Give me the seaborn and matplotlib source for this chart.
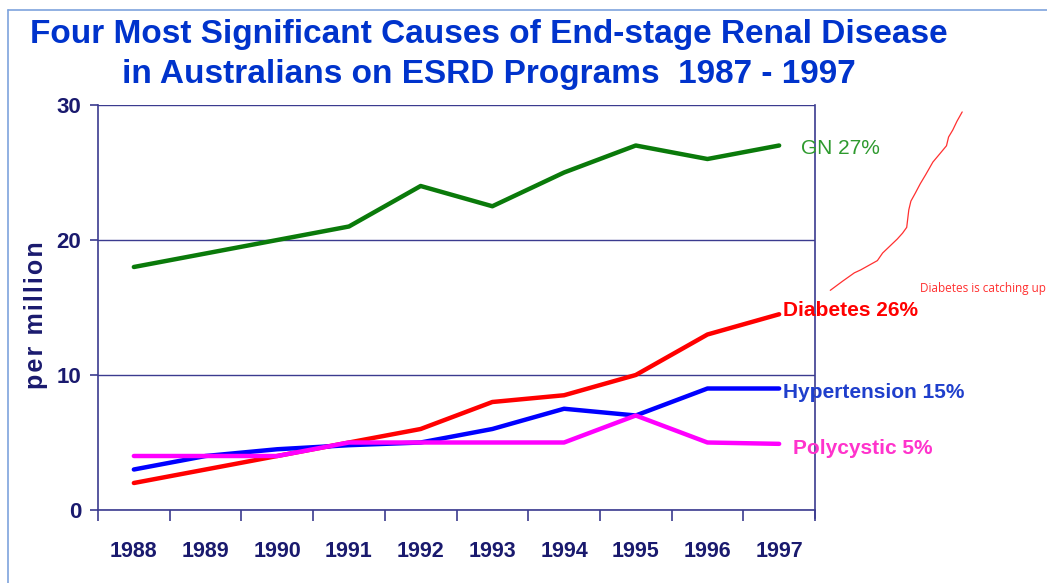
import matplotlib
matplotlib.use("Agg")
import matplotlib.pyplot as plt
from matplotlib.lines import Line2D
import seaborn as sns
import pandas as pd

# --- data -------------------------------------------------------------
years = ["1988", "1989", "1990", "1991", "1992", "1993", "1994", "1995", "1996", "1997"]
gn = [18, 19, 20, 21, 24, 22.5, 25, 27, 26, 27]
diabetes = [2, 3, 4, 5, 6, 8, 8.5, 10, 13, 14.5]
hypertension = [3, 4, 4.5, 4.8, 5, 6, 7.5, 7, 9, 9]
polycystic = [4, 4, 4, 5, 5, 5, 5, 7, 5, 4.9]

series_names = ["GN 27%", "Diabetes 26%", "Hypertension 15%", "Polycystic 5%"]
series_values = [gn, diabetes, hypertension, polycystic]
line_colors = ["#0A7A0A", "#FF0000", "#0000FF", "#FF00FF"]
label_colors = ["#2E9A2E", "#FF0000", "#1F3FCC", "#FF33CC"]
label_weights = ["normal", "bold", "bold", "bold"]

y_ticks = [0, 10, 20, 30]
title = "Four Most Significant Causes of End-stage Renal Disease\nin Australians on ESRD Programs  1987 - 1997"
y_label = "\u200a".join("per million")
note = "Diabetes is catching up"

# freehand pen stroke next to the labels (figure fractions)
stroke_x = [0.793, 0.805, 0.816, 0.822, 0.831, 0.838, 0.843, 0.850, 0.857, 0.862,
            0.866, 0.867, 0.868, 0.870, 0.874, 0.879, 0.884, 0.891, 0.898, 0.904,
            0.906, 0.910, 0.914, 0.919]
stroke_y = [0.502, 0.518, 0.532, 0.537, 0.546, 0.553, 0.566, 0.578, 0.590, 0.600,
            0.610, 0.625, 0.640, 0.655, 0.668, 0.685, 0.700, 0.722, 0.737, 0.750,
            0.765, 0.777, 0.792, 0.808]

NAVY = "#1A1A6E"
AXIS = "#3B3B8F"
SANS = ["Liberation Sans", "DejaVu Sans"]

# --- tidy frame -----------------------------------------------------------
df = pd.concat(
    [pd.DataFrame({"year": years, "value": vals, "cause": name})
     for name, vals in zip(series_names, series_values)],
    ignore_index=True,
)
df["pos"] = df["year"].map({y: i for i, y in enumerate(years)})

sns.set_theme(style="white")
plt.rcParams["font.family"] = SANS

fig = plt.figure(figsize=(10.47, 5.83), dpi=100)
ax = fig.add_axes([98 / 1047, 1 - 510 / 583, (815 - 98) / 1047, (510 - 105) / 583])

sns.lineplot(data=df, x="pos", y="value", hue="cause", hue_order=series_names,
             palette=line_colors, linewidth=3.2, legend=False, ax=ax, sort=False)

ax.set_xlim(-0.5, len(years) - 0.5)
ax.set_ylim(0, 30)

# category boundaries as tick marks, labels centred on each year
ax.set_xticks([i - 0.5 for i in range(len(years) + 1)])
ax.set_xticklabels([])
ax.set_xticks(range(len(years)), minor=True)
ax.set_xticklabels(years, minor=True, fontsize=15.5, fontweight="bold", color=NAVY)
ax.tick_params(axis="x", which="major", direction="out", length=8, width=1.2,
               color=AXIS, bottom=True)
ax.tick_params(axis="x", which="minor", length=0, pad=22)

ax.set_yticks(y_ticks)
ax.set_yticklabels([str(t) for t in y_ticks], fontsize=16, fontweight="bold", color=NAVY)
ax.tick_params(axis="y", direction="out", length=6, width=1.2, color=AXIS, left=True, pad=6)

ax.yaxis.grid(True, color=AXIS, linewidth=1.0)
ax.xaxis.grid(False)
for side in ["left", "bottom", "right"]:
    ax.spines[side].set_visible(True)
    ax.spines[side].set_color(AXIS)
    ax.spines[side].set_linewidth(1.2)
ax.spines["top"].set_visible(False)
ax.spines["right"].set_bounds(-0.6, 30)

ax.set_xlabel("")
ax.set_ylabel(y_label, fontsize=18, fontweight="bold", color=NAVY)
ax.yaxis.set_label_coords((48 - 98) / 717, 0.48)

# series labels at the end of each line
label_offsets = [(0.3, -0.25), (0.05, 0.25), (0.05, -0.3), (0.2, -0.35)]
for name, vals, col, wt, (dx, dy) in zip(series_names, series_values, label_colors,
                                         label_weights, label_offsets):
    ax.text(len(years) - 1 + dx, vals[-1] + dy, name, color=col, fontsize=15,
            fontweight=wt, va="center", ha="left", clip_on=False)

fig.suptitle(title, x=0.467, y=0.968, fontsize=24, fontweight="bold", color="#0033CC",
             linespacing=1.38)

# pen stroke and its note
fig.add_artist(Line2D(stroke_x, stroke_y, transform=fig.transFigure,
                      color="#FF3030", linewidth=0.9))
fig.text(0.879, 0.505, note, color="#FF3030", fontsize=8.5,
         family=["Open Sans", "DejaVu Sans"], va="center", ha="left")

# slide frame
frame_col = "#7EA3DD"
fig.add_artist(Line2D([8 / 1047, 8 / 1047], [0, 1 - 10 / 583], transform=fig.transFigure,
                      color=frame_col, linewidth=1.2))
fig.add_artist(Line2D([8 / 1047, 1], [1 - 10 / 583, 1 - 10 / 583], transform=fig.transFigure,
                      color=frame_col, linewidth=1.2))

fig.savefig("out.png", dpi=100)
